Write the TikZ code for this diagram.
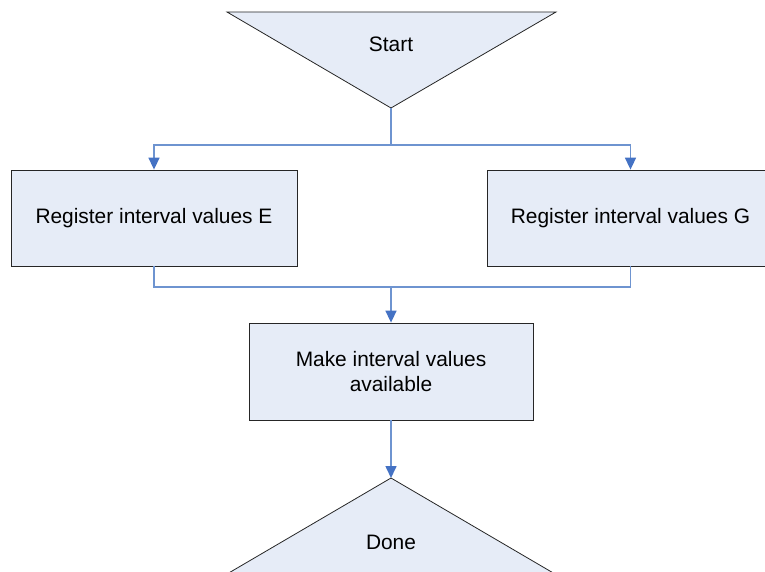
\documentclass[tikz,border=0pt]{standalone}
\usepackage{fontspec}
\setmainfont{Liberation Sans}
\usetikzlibrary{arrows.meta}
\definecolor{boxfill}{RGB}{230,236,247}
\definecolor{linkblue}{RGB}{110,148,208}
\definecolor{tipblue}{RGB}{68,114,196}
\tikzset{
  x=1pt, y=-1pt,
  stepbox/.style={draw=black!85, line width=0.8pt, fill=boxfill,
    minimum width=286pt, minimum height=96pt, inner sep=0pt,
    align=center, font=\fontsize{20.9}{24.5}\selectfont},
  terminal/.style={draw=black!85, line width=0.8pt, fill=boxfill, line join=miter},
  label/.style={font=\fontsize{20.9}{24.5}\selectfont, inner sep=0pt},
  link/.style={draw=linkblue, line width=1.6pt},
  arrowlink/.style={link, -{Triangle[width=11pt,length=12pt,color=tipblue]}}
}
\begin{document}
\begin{tikzpicture}
  \clip (0,0) rectangle (765,572);

  % start terminal (downward triangle)
  \coordinate (startapex) at (391,108);
  \filldraw[terminal] (227,12) -- (556,12) -- (startapex) -- cycle;
  \node[label] (start) at (391,44) {Start};

  % register steps
  \node[stepbox] (regE) at (154,218) {Register interval values E};
  \node[stepbox] (regG) at (630.5,218) {Register interval values G};

  % merge step
  \node[stepbox, minimum width=284pt, minimum height=97pt] (make) at (391,371.5)
    {Make interval values\\available};

  % done terminal (upward triangle)
  \coordinate (doneapex) at (391,478);
  \filldraw[terminal] (227,574) -- (doneapex) -- (555,574) -- cycle;
  \node[label] (done) at (391,542) {Done};

  % fork from start
  \coordinate (fork) at (391,145);
  \draw[link] (startapex) -- (fork);
  \draw[arrowlink] (fork) -| (regE.north);
  \draw[arrowlink] (fork) -| (regG.north);

  % join into merge step
  \coordinate (join) at (391,287);
  \draw[link] (regE.south) |- (join);
  \draw[link] (regG.south) |- (join);
  \draw[arrowlink] (join) -- (make.north);

  % on to done
  \draw[arrowlink] (make.south) -- (doneapex);
\end{tikzpicture}
\end{document}
